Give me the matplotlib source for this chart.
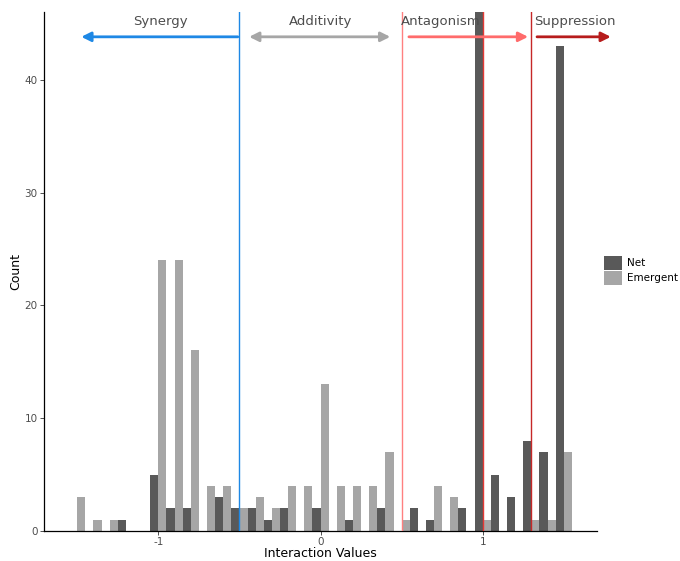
import numpy as np
import matplotlib.pyplot as plt

# Bin centres (binwidth 0.1) and counts
bin_centers = np.round(np.arange(-1.5, 1.51, 0.1), 1)
net_counts = [0, 0, 0, 1, 0, 5, 2, 2, 0, 3, 2, 2, 1, 2, 0, 2,
              0, 1, 0, 2, 0, 2, 1, 0, 2, 46, 5, 3, 8, 7, 43]
emergent_counts = [3, 1, 1, 0, 0, 24, 24, 16, 4, 4, 2, 3, 2, 4, 4, 13,
                   4, 4, 4, 7, 1, 0, 4, 3, 0, 1, 0, 0, 1, 1, 7]
series_names = ["Net", "Emergent"]

# Threshold lines and region labels
thresholds = [-0.5, 0.5, 1.0, 1.3]
region_labels = ["Synergy", "Additivity", "Antagonism", "Suppression"]

binwidth = 0.1
fig = plt.figure(figsize=(6.8, 5.61), dpi=100)
ax = fig.add_axes([0.0647, 0.0535, 0.8133, 0.9251])

net_col = "#595959"
emg_col = "#a6a6a6"
ax.bar(bin_centers - binwidth / 4, net_counts, width=binwidth / 2,
       color=net_col, label=series_names[0], zorder=2)
ax.bar(bin_centers + binwidth / 4, emergent_counts, width=binwidth / 2,
       color=emg_col, label=series_names[1], zorder=2)

line_cols = ["#1e88e5", "#ff8080", "#e53935", "#c62828"]
for x, c in zip(thresholds, line_cols):
    ax.axvline(x, color=c, lw=1.0, zorder=3)

# Arrows for regions
y_arr = 43.8
y_txt = 44.6
txt_col = "#4d4d4d"
arrow_specs = [
    (-0.51, -1.475, "#1e88e5", "->"),
    (-0.44, 0.43, "#a6a6a6", "<->"),
    (0.545, 1.28, "#ff6b6b", "->"),
    (1.335, 1.79, "#b71c1c", "->"),
]
for (x0, x1, c, style) in arrow_specs:
    ax.annotate("", xy=(x1, y_arr), xytext=(x0, y_arr),
                arrowprops=dict(arrowstyle="-|>" if style == "->" else "<|-|>",
                                color=c, lw=2, mutation_scale=14,
                                shrinkA=0, shrinkB=0),
                annotation_clip=False, zorder=4)

text_x = [-0.985, 0.0, 0.74, 1.57]
for tx, lab in zip(text_x, region_labels):
    ax.text(tx, y_txt, lab, ha="center", va="bottom", fontsize=9.5,
            color=txt_col, zorder=5, clip_on=False)

ax.set_xlim(-1.705, 1.705)
ax.set_ylim(0, 46)
ax.set_xticks([-1, 0, 1])
ax.set_xticklabels(["-1", "0", "1"])
ax.set_yticks([0, 10, 20, 30, 40])
ax.tick_params(labelsize=7.5, labelcolor=txt_col, length=3, width=0.6,
               color="#333333", pad=1.5)
ax.set_xlabel("Interaction Values", fontsize=9, labelpad=0)
ax.set_ylabel("Count", fontsize=9, labelpad=2)
for s in ["top", "right"]:
    ax.spines[s].set_visible(False)
for s in ["left", "bottom"]:
    ax.spines[s].set_linewidth(0.9)
    ax.spines[s].set_color("black")

ax.legend(loc="upper left", bbox_to_anchor=(1.013, 0.53), frameon=False,
          fontsize=7.5, handlelength=1.7, handleheight=1.7, handletextpad=0.5,
          labelspacing=0.05, borderaxespad=0, borderpad=0)

fig.savefig("out.png", dpi=100)
